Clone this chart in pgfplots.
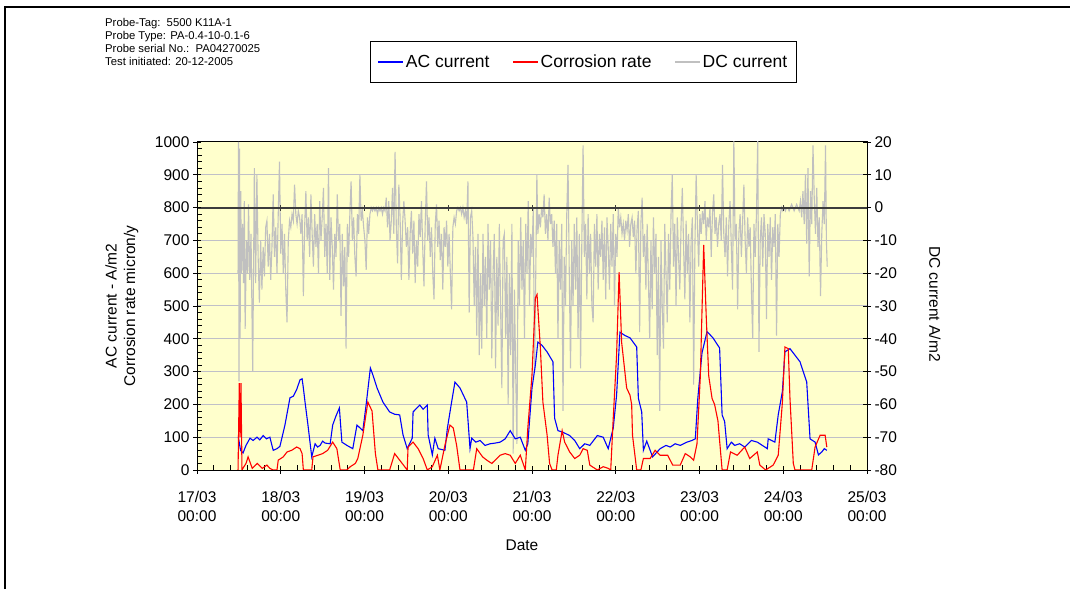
\documentclass[border=0pt]{standalone}
\usepackage{fontspec}
\setmainfont{Liberation Sans}
\usepackage{pgfplots}
\pgfplotsset{compat=1.18}
\definecolor{bgyel}{RGB}{255,255,204}
\definecolor{gridc}{RGB}{192,192,200}
\definecolor{dcgray}{RGB}{192,192,192}
\definecolor{zeroc}{RGB}{60,60,60}
\newcommand{\tfont}{\fontsize{15.5}{18.5}\selectfont}
\begin{document}
\begin{tikzpicture}
\path[use as bounding box] (0pt,0pt) rectangle (1070pt,589pt);
\draw[line width=2.2pt] (5pt,0pt) -- (5pt,582pt) -- (1072pt,582pt);
\node[anchor=north west, align=left, font=\fontsize{11.3}{13}\selectfont, inner sep=0pt] at (105pt,571pt)
 {Probe-Tag:\ \ 5500 K11A-1\\Probe Type: PA-0.4-10-0.1-6\\Probe serial No.:\ \ PA04270025\\Test initiated: 20-12-2005};

% ---------- DC current (right axis, background) ----------
\begin{axis}[
  at={(197pt,119pt)}, anchor=south west,
  scale only axis, width=670pt, height=328pt,
  xmin=0, xmax=8, ymin=-80, ymax=20,
  xtick={0,1,...,8},
  xticklabels={{17/03\\00:00},{18/03\\00:00},{19/03\\00:00},{20/03\\00:00},{21/03\\00:00},{22/03\\00:00},{23/03\\00:00},{24/03\\00:00},{25/03\\00:00}},
  xticklabel style={align=center, font=\tfont, yshift=-14pt},
  minor x tick num=4,
  xtick pos=bottom, ytick pos=right,
  ytick={-80,-70,...,20},
  yticklabel style={font=\tfont},
  /pgf/number format/assume math mode=true,
  /pgf/number format/1000 sep={},
  tick align=center, major tick length=8pt, minor tick length=5pt,
  every minor x tick/.append style={yshift=2.5pt},
  ymajorgrids, grid style={gridc, line width=1pt},
  axis background/.style={fill=bgyel},
  axis line style={black, line width=1pt},
  tick style={black, line width=0.8pt},
  xlabel={Date}, xlabel style={at={(axis description cs:0.485,-0.229)}, anchor=center, font=\tfont},
  ylabel={DC current A/m2}, ylabel style={at={(axis description cs:1.1015,0.506)}, anchor=center, rotate=180, font=\tfont},
]
\addplot[dcgray, line width=1.1pt] table {
t v
0.490 -20
0.495 20
0.502 -53
0.508 18
0.515 -40
0.522 5
0.530 -20
0.545 -5
0.555 -23
0.565 2
0.575 -37
0.590 -10
0.605 -20
0.615 1
0.630 -22
0.645 -8
0.665 -50
0.685 12
0.700 -23
0.715 10
0.730 -15
0.745 -29
0.760 -10
0.775 -25
0.790 -12
0.805 -21
0.820 -6
0.835 -4
0.850 -18
0.865 -8
0.880 -22
0.895 -12
0.910 4
0.925 -15
0.940 -6
0.955 -20
0.970 -2
0.985 14
1.000 -14
1.015 -5
1.030 -20
1.045 -8
1.060 -25
1.075 -35
1.090 -10
1.105 -4
1.120 -6
1.135 -2
1.150 -4
1.165 7
1.180 -2
1.195 -5
1.210 -1
1.225 -3
1.240 -8
1.255 -2
1.270 -27
1.285 -6
1.300 5
1.315 -10
1.330 -3
1.345 -15
1.360 4
1.375 -8
1.390 -18
1.405 -2
1.420 -12
1.435 -5
1.450 -20
1.465 2
1.480 -10
1.495 -3
1.510 6
1.525 -15
1.540 -5
1.555 -20
1.570 12
1.585 -22
1.600 -3
1.615 -12
1.630 -25
1.645 -8
1.660 -15
1.675 4
1.690 -10
1.705 -5
1.720 -33
1.735 -8
1.750 -24
1.765 -12
1.780 -43
1.795 -5
1.810 -15
1.825 -2
1.840 8
1.855 -10
1.870 -3
1.885 -15
1.900 -21
1.915 -2
1.930 -8
1.945 10
1.960 -4
1.975 -1
1.990 -6
2.005 -10
2.020 -19
2.035 -3
2.050 -8
2.065 -2
2.080 0
2.095 -1
2.110 0
2.125 -1
2.140 0
2.155 -2
2.170 0
2.185 -1
2.200 0
2.215 -2
2.230 0
2.245 -1
2.260 3
2.275 -6
2.290 2
2.305 -10
2.320 -4
2.335 6
2.350 -8
2.365 17
2.380 -6
2.395 -17
2.410 7
2.425 -3
2.440 -22
2.455 -5
2.470 2
2.485 -4
2.500 -12
2.515 -6
2.530 -22
2.545 -8
2.560 -1
2.575 -14
2.590 -4
2.605 -23
2.620 -10
2.635 -18
2.650 -2
2.665 -9
2.680 2
2.695 -12
2.710 -24
2.725 -5
2.740 8
2.755 -10
2.770 -3
2.785 -15
2.800 -6
2.815 -20
2.830 -28
2.845 -5
2.860 1
2.875 -12
2.890 -4
2.905 -16
2.920 -8
2.935 -25
2.950 -6
2.965 -12
2.980 -4
2.995 -18
3.010 -8
3.025 -20
3.040 -31
3.055 -6
3.070 -3
3.085 -5
3.100 -1
3.115 0
3.130 -1
3.145 0
3.160 -2
3.175 0
3.190 -3
3.205 -1
3.220 -5
3.235 8
3.250 -32
3.265 -3
3.280 -1
3.295 -9
3.310 -30
3.325 -12
3.340 -39
3.355 -8
3.370 -45
3.385 -20
3.400 -43
3.415 -8
3.430 -30
3.445 -15
3.460 -40
3.475 -5
3.490 -25
3.505 -10
3.520 -46
3.535 -20
3.550 -8
3.565 -49
3.580 -15
3.595 -36
3.610 -5
3.625 -30
3.640 -55
3.655 -10
3.670 -8
3.685 -40
3.700 -15
3.715 -60
3.730 -20
3.745 -45
3.760 -5
3.775 -75
3.790 -25
3.805 -50
3.820 -72
3.835 -10
3.850 -30
3.865 -3
3.880 -25
3.895 -10
3.910 -40
3.925 -5
3.940 -20
3.955 2
3.970 -30
3.985 -8
4.000 -15
4.015 0
4.030 -50
4.045 -20
4.058 10
4.070 -8
4.085 -2
4.100 -6
4.115 0
4.130 -3
4.145 4
4.160 -8
4.175 -2
4.190 -10
4.205 3
4.220 -5
4.235 -2
4.250 -12
4.265 -4
4.280 -20
4.295 -5
4.310 -40
4.325 -10
4.340 -25
4.355 -5
4.370 -62
4.385 -15
4.400 -30
4.415 -2
4.430 13
4.445 -20
4.460 -49
4.475 -10
4.490 -30
4.505 -5
4.520 -25
4.535 -3
4.550 -40
4.565 -8
4.580 -49
4.595 -10
4.610 19
4.625 -15
4.640 -5
4.655 -28
4.670 -2
4.685 -20
4.700 -8
4.715 -30
4.730 -35
4.745 -5
4.760 -18
4.775 -2
4.790 -25
4.805 -8
4.820 -15
4.835 -4
4.850 -22
4.865 -6
4.880 -28
4.895 -3
4.910 -12
4.925 -25
4.940 -5
4.955 -18
4.970 -2
4.985 -30
5.000 -8
5.015 -15
5.030 0
5.045 -6
5.060 -3
5.075 -8
5.090 -5
5.105 -10
5.120 -4
5.135 -7
5.150 -2
5.165 -12
5.180 -5
5.195 -3
5.210 -9
5.225 -4
5.240 -20
5.255 -6
5.270 -1
5.285 -38
5.300 -5
5.315 3
5.330 -15
5.345 -8
5.360 -25
5.375 -5
5.390 -22
5.405 -40
5.420 -10
5.435 -31
5.450 -3
5.465 -20
5.480 -8
5.495 -45
5.510 -15
5.525 -62
5.540 -10
5.555 -30
5.570 -43
5.585 -5
5.600 -20
5.615 -35
5.630 -8
5.645 -25
5.660 -2
5.675 10
5.690 -18
5.705 -5
5.720 -30
5.735 -3
5.750 -15
5.765 -25
5.780 -5
5.795 6
5.810 -12
5.825 -28
5.840 -4
5.855 -20
5.870 -8
5.885 -35
5.900 -10
5.915 -3
5.930 -54
5.945 -12
5.960 10
5.975 -5
5.990 -18
6.005 -2
6.020 -8
6.035 -1
6.050 -5
6.065 2
6.080 -10
6.095 -3
6.110 -6
6.125 0
6.140 -15
6.155 -2
6.170 4
6.185 -8
6.200 -3
6.215 -12
6.230 -5
6.245 -2
6.260 -10
6.275 13
6.290 -8
6.305 -15
6.320 -3
6.335 -21
6.350 -5
6.365 2
6.380 -12
6.395 -25
6.410 21
6.425 -10
6.440 -5
6.455 -31
6.470 -8
6.485 -2
6.500 -15
6.515 -4
6.530 7
6.545 -10
6.560 -20
6.575 -3
6.590 -12
6.605 -6
6.620 -25
6.635 -40
6.650 -5
6.665 -15
6.680 -2
6.695 21
6.710 -44
6.725 -10
6.740 -3
6.755 -18
6.770 -2
6.785 -8
6.800 -34
6.815 -5
6.830 -15
6.845 -3
6.860 -22
6.875 -6
6.890 -12
6.905 -2
6.920 -39
6.935 -5
6.950 -15
6.965 -2
6.980 0
6.995 -1
7.010 0
7.025 -1
7.040 0
7.055 0
7.070 -1
7.085 0
7.100 1
7.115 0
7.130 -1
7.145 0
7.160 1
7.175 0
7.190 -1
7.205 2
7.220 -3
7.235 5
7.250 -5
7.265 10
7.280 -11
7.295 12
7.310 -21
7.325 5
7.340 -5
7.355 19
7.370 3
7.385 -8
7.400 6
7.415 -12
7.430 -3
7.445 -27
7.460 -8
7.475 2
7.490 -5
7.505 19
7.515 -10
7.525 -18
};
\draw[zeroc, line width=2pt] (axis cs:0,0) -- (axis cs:8,0);
\pgfplotsinvokeforeach{1,2,3,4,5,6,7}{\draw[zeroc, line width=1pt] ([yshift=-3pt]axis cs:#1,0) -- ([yshift=3pt]axis cs:#1,0);}
\end{axis}

% ---------- AC current & corrosion rate (left axis) ----------
\begin{axis}[
  at={(197pt,119pt)}, anchor=south west,
  scale only axis, width=670pt, height=328pt,
  xmin=0, xmax=8, ymin=0, ymax=1000,
  hide x axis,
  ytick={0,100,...,1000}, ytick pos=left, minor y tick num=4,
  yticklabel style={font=\tfont},
  /pgf/number format/assume math mode=true,
  /pgf/number format/1000 sep={},
  tick align=center, major tick length=8pt, minor tick length=5pt,
  every minor y tick/.append style={xshift=2.5pt},
  axis line style={black, line width=1pt},
  tick style={black, line width=0.8pt},
  ylabel={AC current - A/m2\\Corrosion rate micron/y},
  ylabel style={align=center, at={(axis description cs:-0.112,0.5)}, anchor=center, font=\tfont},
  legend style={at={(axis description cs:0.577,1.244)}, anchor=center, legend columns=3,
    draw=black, line width=0.8pt, font=\fontsize{17.5}{20}\selectfont, inner xsep=7pt, inner ysep=11pt,
    /tikz/every even column/.append style={column sep=21pt}},
  legend image code/.code={\draw[#1] (0pt,0pt) -- (25pt,0pt);},
]
\addplot[blue, line width=1.1pt] coordinates {
(0.493,101) (0.52,60) (0.55,52) (0.585,75) (0.633,97) (0.67,90) (0.716,100) (0.75,92) (0.79,105) (0.83,95) (0.87,100)
(0.91,60) (0.955,65) (0.99,72) (1.05,137) (1.11,220) (1.15,225) (1.19,245) (1.23,275) (1.255,278) (1.27,250)
(1.29,207) (1.325,137) (1.37,40) (1.41,80) (1.44,70) (1.47,75) (1.50,88) (1.53,82) (1.59,80) (1.62,137) (1.66,165)
(1.70,189) (1.73,85) (1.79,75) (1.86,65) (1.91,137) (1.98,120) (2.02,200) (2.07,311) (2.10,290) (2.15,250)
(2.22,207) (2.30,177) (2.36,170) (2.42,168) (2.46,107) (2.51,65) (2.57,97) (2.58,177) (2.66,198) (2.70,185) (2.75,198)
(2.76,107) (2.81,46) (2.84,97) (2.88,65) (2.96,60) (2.99,128) (3.04,207) (3.08,268) (3.14,250) (3.22,207)
(3.26,65) (3.28,97) (3.33,85) (3.38,90) (3.44,75) (3.50,80) (3.56,82) (3.62,85) (3.68,95) (3.74,120) (3.80,95) (3.86,100)
(3.92,60) (3.95,80) (4.00,250) (4.04,320) (4.07,390) (4.12,380) (4.18,360) (4.25,330) (4.27,158) (4.31,120)
(4.37,115) (4.45,105) (4.51,90) (4.57,65) (4.63,80) (4.69,75) (4.78,105) (4.85,100) (4.91,65) (4.97,128) (5.01,228)
(5.05,420) (5.11,410) (5.17,403) (5.25,375) (5.27,219) (5.31,177) (5.33,60) (5.37,88) (5.44,40) (5.53,65)
(5.60,75) (5.65,70) (5.71,80) (5.77,75) (5.85,85) (5.91,90) (5.95,95) (5.98,219) (6.03,357) (6.09,422) (6.16,403)
(6.24,372) (6.27,168) (6.30,148) (6.33,65) (6.38,85) (6.42,75) (6.48,80) (6.54,70) (6.62,90) (6.69,85) (6.75,75) (6.81,65)
(6.82,95) (6.90,85) (6.94,168) (6.99,240) (7.02,360) (7.08,370) (7.14,350) (7.20,330) (7.28,268) (7.32,95) (7.38,85)
(7.42,46) (7.46,55) (7.49,65) (7.52,60)
};
\addlegendentry{AC current}
\addplot[red, line width=1.1pt] coordinates {
(0.49,0) (0.505,265) (0.515,100) (0.525,265) (0.537,0) (0.56,10) (0.585,20) (0.61,40) (0.66,5) (0.72,20) (0.78,5)
(0.835,15) (0.87,5) (0.91,0) (0.955,0) (0.97,30) (1.03,40) (1.075,55) (1.13,60) (1.19,70) (1.23,65) (1.255,50)
(1.27,0) (1.37,0) (1.385,40) (1.445,45) (1.50,50) (1.56,60) (1.62,85) (1.67,65) (1.71,0) (1.79,0) (1.83,10)
(1.89,20) (1.92,35) (1.98,106) (2.04,207) (2.09,180) (2.13,50) (2.16,0) (2.30,0) (2.36,50) (2.45,20) (2.51,0)
(2.52,70) (2.58,85) (2.64,65) (2.70,35) (2.75,0) (2.81,10) (2.87,45) (2.90,0) (2.96,75) (3.02,137) (3.06,128)
(3.10,75) (3.14,0) (3.30,0) (3.34,65) (3.41,40) (3.46,30) (3.52,20) (3.62,45) (3.68,50) (3.74,45) (3.80,20)
(3.86,45) (3.92,0) (3.95,128) (4.00,290) (4.04,525) (4.06,535) (4.10,372) (4.13,207) (4.18,107) (4.21,20)
(4.24,0) (4.29,0) (4.31,45) (4.36,120) (4.39,85) (4.45,55) (4.51,35) (4.57,45) (4.61,65) (4.66,60) (4.69,15)
(4.78,0) (4.85,10) (4.91,5) (4.94,0) (4.97,158) (5.01,350) (5.04,603) (5.07,390) (5.13,250) (5.17,228) (5.19,200)
(5.20,106) (5.25,0) (5.30,0) (5.33,35) (5.41,35) (5.47,60) (5.53,45) (5.62,45) (5.68,15) (5.77,15) (5.83,50)
(5.89,40) (5.93,30) (5.97,80) (6.01,287) (6.05,686) (6.08,470) (6.11,287) (6.15,218) (6.18,200) (6.22,150)
(6.27,0) (6.33,0) (6.37,55) (6.45,45) (6.54,70) (6.60,35) (6.69,55) (6.72,15) (6.79,0) (6.88,15) (6.94,45)
(6.99,207) (7.02,375) (7.06,370) (7.08,220) (7.12,20) (7.14,0) (7.34,0) (7.38,70) (7.44,106) (7.50,106) (7.52,70)
};
\addlegendentry{Corrosion rate}
\addlegendimage{dcgray, line width=1.1pt}
\addlegendentry{DC current}
\end{axis}
\end{tikzpicture}
\end{document}
